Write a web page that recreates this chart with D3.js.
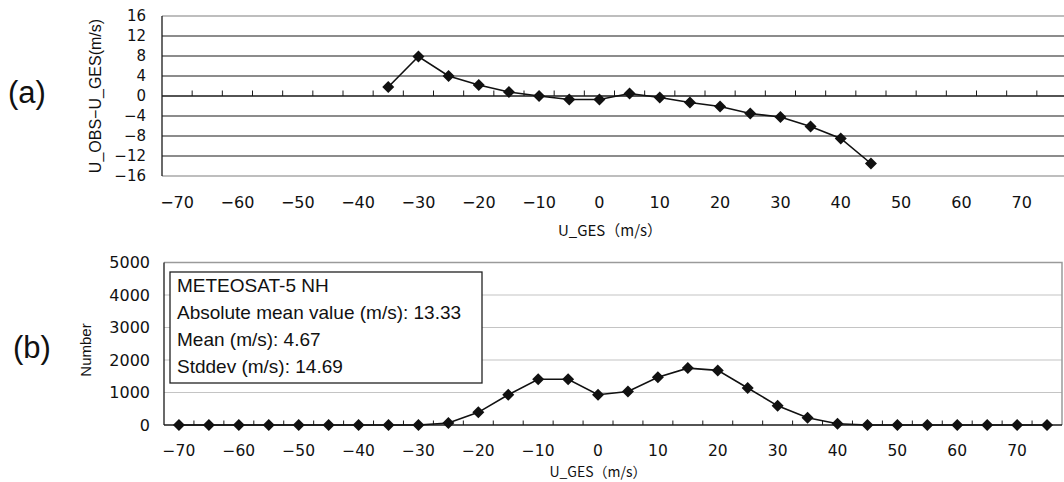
<!DOCTYPE html>
<html>
<head>
<meta charset="utf-8">
<script src="https://cdn.jsdelivr.net/npm/d3@7/dist/d3.min.js"></script>
<style>
  html, body { margin: 0; padding: 0; background: #fff; }
  svg { display: block; }
  .tick-label { font-family: "DejaVu Sans", sans-serif; fill: #111; }
  .title { font-family: "Liberation Sans", Arial, sans-serif; fill: #111; }
  .cjk { font-family: "Noto Sans CJK JP", sans-serif; fill: #111; }
</style>
</head>
<body>
<svg id="chart" width="1064" height="482"></svg>
<script>
// Wind-speed bins (m/s)
const uGes = [-70, -65, -60, -55, -50, -45, -40, -35, -30, -25, -20, -15, -10, -5, 0,
              5, 10, 15, 20, 25, 30, 35, 40, 45, 50, 55, 60, 65, 70, 75];
const xTickLabels = [-70, -60, -50, -40, -30, -20, -10, 0, 10, 20, 30, 40, 50, 60, 70];

// (a) mean O-B departure per bin
const biasBins = [-35, -30, -25, -20, -15, -10, -5, 0, 5, 10, 15, 20, 25, 30, 35, 40, 45];
const biasValues = [1.8, 7.9, 4.0, 2.2, 0.8, 0.0, -0.7, -0.7, 0.5, -0.3, -1.3, -2.1,
                    -3.5, -4.2, -6.1, -8.5, -13.5];
const biasTicks = [-16, -12, -8, -4, 0, 4, 8, 12, 16];

// (b) number of observations per bin
const counts = [0, 0, 0, 0, 0, 0, 0, 0, 0, 60, 390, 930, 1410, 1410, 930, 1030, 1470,
                1750, 1680, 1140, 590, 220, 40, 0, 0, 0, 0, 0, 0, 0];
const countTicks = [0, 1000, 2000, 3000, 4000, 5000];

// Statistics box
const statsLines = [
  "METEOSAT-5 NH",
  "Absolute mean value (m/s): 13.33",
  "Mean (m/s): 4.67",
  "Stddev (m/s): 14.69"
];

const svg = d3.select("#chart");
const fmt = d => d3.format("")(d); // uses the typographic minus sign

const diamond = d3.symbol().type(d3.symbolSquare).size(72);

// ---------- panel (a) ----------
{
  const top = 16, bottom = 176, left = 162, right = 1067;
  const x = d3.scaleBand().domain(uGes).range([left, right]);
  const y = d3.scaleLinear().domain([-16, 16]).range([bottom, top]);
  const cx = d => x(d) + x.bandwidth() / 2;
  const g = svg.append("g");

  // horizontal gridlines
  g.selectAll("line.grid").data(biasTicks.filter(t => t !== 0 && Math.abs(t) !== 16))
    .join("line").attr("class", "grid")
    .attr("x1", left).attr("x2", right)
    .attr("y1", d => y(d)).attr("y2", d => y(d))
    .attr("stroke", "#1a1a1a").attr("stroke-width", 1.2);

  // plot frame (top/bottom edges)
  [16, -16].forEach(v => g.append("line")
    .attr("x1", left).attr("x2", right).attr("y1", y(v)).attr("y2", y(v))
    .attr("stroke", "#a8a8a8").attr("stroke-width", 1.5));

  // left axis line
  g.append("line").attr("x1", left).attr("x2", left).attr("y1", top).attr("y2", bottom)
    .attr("stroke", "#1a1a1a").attr("stroke-width", 1.3);

  // zero line with category boundary ticks
  g.append("line").attr("x1", left).attr("x2", right).attr("y1", y(0)).attr("y2", y(0))
    .attr("stroke", "#1a1a1a").attr("stroke-width", 1.3);
  g.selectAll("line.tk").data(uGes.slice(1)).join("line").attr("class", "tk")
    .attr("x1", d => x(d)).attr("x2", d => x(d))
    .attr("y1", y(0)).attr("y2", y(0) - 5.5)
    .attr("stroke", "#1a1a1a").attr("stroke-width", 1);

  // y tick labels
  const yAxis = d3.axisLeft(y).tickValues(biasTicks).tickSize(0).tickPadding(16).tickFormat(fmt);
  const ya = g.append("g").attr("transform", `translate(${left},0)`).call(yAxis);
  ya.select(".domain").remove();
  ya.selectAll("text").attr("class", "tick-label").style("font-size", "15px")
    .attr("font-family", null).attr("fill", null);

  // x tick labels
  const xAxis = d3.axisBottom(x).tickValues(xTickLabels).tickSize(0).tickFormat(fmt);
  const xa = g.append("g").attr("transform", `translate(0,196)`).call(xAxis);
  xa.select(".domain").remove();
  xa.selectAll("text").attr("class", "tick-label").style("font-size", "16px")
    .attr("dy", "0.72em").attr("y", 0).attr("font-family", null).attr("fill", null);

  // data line
  const pts = biasBins.map((b, i) => [cx(b), y(biasValues[i])]);
  g.append("path").attr("d", d3.line()(pts))
    .attr("fill", "none").attr("stroke", "#111").attr("stroke-width", 1.6);
  g.selectAll("path.mk").data(pts).join("path").attr("class", "mk")
    .attr("d", diamond)
    .attr("transform", d => `translate(${d[0]},${d[1]}) rotate(45)`)
    .attr("fill", "#111");

  // titles
  svg.append("text").attr("class", "title")
    .attr("transform", "translate(95,96) rotate(-90)")
    .attr("text-anchor", "middle").attr("dy", "0.35em")
    .style("font-size", "16px").text("U_OBS\u2212U_GES(m/s)");
  svg.append("text").attr("class", "cjk")
    .attr("x", 610).attr("y", 236).attr("text-anchor", "middle")
    .style("font-size", "15px").text("U_GES（m/s）");
  svg.append("text").attr("class", "title")
    .attr("x", 27).attr("y", 103).attr("text-anchor", "middle")
    .style("font-size", "31px").text("(a)");
}

// ---------- panel (b) ----------
{
  const top = 262.5, bottom = 425, left = 164, right = 1062;
  const x = d3.scaleBand().domain(uGes).range([left, right]);
  const y = d3.scaleLinear().domain([0, 5000]).range([bottom, top]);
  const cx = d => x(d) + x.bandwidth() / 2;
  const g = svg.append("g");

  // gridlines
  g.selectAll("line.grid").data(countTicks.filter(t => t > 0 && t < 5000))
    .join("line").attr("class", "grid")
    .attr("x1", left).attr("x2", right)
    .attr("y1", d => y(d)).attr("y2", d => y(d))
    .attr("stroke", "#c4c4c4").attr("stroke-width", 1.2);

  // frame
  g.append("path")
    .attr("d", `M${left},${top}H${right}V${bottom}`)
    .attr("fill", "none").attr("stroke", "#9a9a9a").attr("stroke-width", 1.5);
  g.append("line").attr("x1", left).attr("x2", left).attr("y1", top).attr("y2", bottom)
    .attr("stroke", "#1a1a1a").attr("stroke-width", 1.3);
  g.append("line").attr("x1", left).attr("x2", right).attr("y1", bottom).attr("y2", bottom)
    .attr("stroke", "#1a1a1a").attr("stroke-width", 1.6);
  g.selectAll("line.tk").data(uGes.slice(1)).join("line").attr("class", "tk")
    .attr("x1", d => x(d)).attr("x2", d => x(d))
    .attr("y1", bottom).attr("y2", bottom - 4.5)
    .attr("stroke", "#1a1a1a").attr("stroke-width", 1);

  // y tick labels
  const yAxis = d3.axisLeft(y).tickValues(countTicks).tickSize(0).tickPadding(14).tickFormat(d3.format("d"));
  const ya = g.append("g").attr("transform", `translate(${left},0)`).call(yAxis);
  ya.select(".domain").remove();
  ya.selectAll("text").attr("class", "tick-label").style("font-size", "16px")
    .attr("font-family", null).attr("fill", null);

  // x tick labels
  const xAxis = d3.axisBottom(x).tickValues(xTickLabels).tickSize(0).tickFormat(fmt);
  const xa = g.append("g").attr("transform", `translate(0,445)`).call(xAxis);
  xa.select(".domain").remove();
  xa.selectAll("text").attr("class", "tick-label").style("font-size", "15.5px")
    .attr("dy", "0.72em").attr("y", 0).attr("font-family", null).attr("fill", null);

  // data line
  const pts = uGes.map((b, i) => [cx(b), y(counts[i])]);
  g.append("path").attr("d", d3.line()(pts))
    .attr("fill", "none").attr("stroke", "#111").attr("stroke-width", 1.6);
  g.selectAll("path.mk").data(pts).join("path").attr("class", "mk")
    .attr("d", diamond)
    .attr("transform", d => `translate(${d[0]},${d[1]}) rotate(45)`)
    .attr("fill", "#111");

  // statistics box
  g.append("rect").attr("x", 170).attr("y", 272).attr("width", 312).attr("height", 111)
    .attr("fill", "#fff").attr("stroke", "#222").attr("stroke-width", 1.3);
  g.selectAll("text.stat").data(statsLines).join("text").attr("class", "title stat")
    .attr("x", 177).attr("y", (d, i) => 291.5 + i * 27)
    .style("font-size", "19px").text(d => d);

  // titles
  svg.append("text").attr("class", "title")
    .attr("transform", "translate(86,350) rotate(-90)")
    .attr("text-anchor", "middle").attr("dy", "0.35em")
    .style("font-size", "15px").text("Number");
  svg.append("text").attr("class", "cjk")
    .attr("x", 598).attr("y", 477).attr("text-anchor", "middle")
    .style("font-size", "14px").text("U_GES（m/s）");
  svg.append("text").attr("class", "title")
    .attr("x", 32).attr("y", 358).attr("text-anchor", "middle")
    .style("font-size", "31px").text("(b)");
}
</script>
</body>
</html>
